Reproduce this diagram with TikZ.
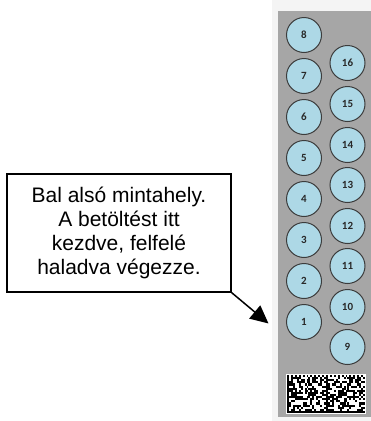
\documentclass[tikz,border=0pt]{standalone}
\usepackage{fontspec}
\setmainfont{Liberation Sans}
\newfontfamily\numfont{Carlito}
\usetikzlibrary{arrows.meta}
\definecolor{panelgray}{RGB}{166,166,166}
\definecolor{stripgray}{RGB}{244,244,244}
\definecolor{wellblue}{RGB}{173,216,230}
\definecolor{welledge}{RGB}{60,60,60}
\definecolor{numcol}{RGB}{40,40,40}
\tikzset{
  well/.style={circle, draw=welledge, line width=1pt, fill=wellblue,
    minimum size=35pt, inner sep=0pt,
    font=\numfont\bfseries\fontsize{11}{13}\selectfont, text=numcol},
  callout/.style={draw=black, line width=1.2pt, fill=white,
    minimum width=224pt, minimum height=118pt, align=center,
    font=\fontsize{21}{24}\selectfont},
  pointer/.style={line width=1.5pt, -{Triangle[length=18pt,width=17pt]}},
  module/.style={fill=black}
}
\begin{document}
\begin{tikzpicture}[x=1pt,y=-1pt]
\useasboundingbox (0,0) rectangle (371,421);
\fill[white] (0,0) rectangle (371,421);
% light strip and gray panel
\fill[stripgray] (272,0) rectangle (371,421);
\fill[panelgray] (278,11) rectangle (371,417);
% wells, left column
\foreach \n/\yy in {1/322,2/281,3/240,4/199,5/158,6/117,7/76,8/35}
  \node[well] (c\n) at (304,\yy) {\n};
% wells, right column
\foreach \n/\yy in {9/347,10/307,11/266,12/226,13/185,14/145,15/104,16/63}
  \node[well] (c\n) at (347.5,\yy) {\n};
% data matrix code: two 20x18 regions, modules 1.95 x 2.11
\fill[white] (286,374) rectangle (366,414);
\pgfmathsetseed{12}
\foreach \rx in {287,326} {
  \foreach \mc in {1,...,18} {
    \foreach \mr in {1,...,16} {
      \pgfmathtruncatemacro\bit{rnd>0.5}
      \ifnum\bit=1
        \fill[module] ({\rx+\mc*1.95},{375+\mr*2.11}) rectangle ++(1.95,2.11);
      \fi
    }
  }
  % solid edges: left and bottom
  \fill[module] (\rx,375) rectangle ++(1.95,{18*2.11});
  \fill[module] ({\rx},{375+17*2.11}) rectangle ++({20*1.95},2.11);
  % timing edges: top and right
  \foreach \mc in {0,2,...,18}
    \fill[module] ({\rx+\mc*1.95},375) rectangle ++(1.95,2.11);
  \foreach \mr in {1,3,...,15}
    \fill[module] ({\rx+19*1.95},{375+\mr*2.11}) rectangle ++(1.95,2.11);
}
% callout
\node[callout] (note) at (119,233) {Bal alsó mintahely.\\A betöltést itt\\kezdve, felfelé\\haladva végezze.};
\coordinate (tip) at (268.5,323.5);
\draw[pointer] (note.south east) -- (tip);
\end{tikzpicture}
\end{document}
